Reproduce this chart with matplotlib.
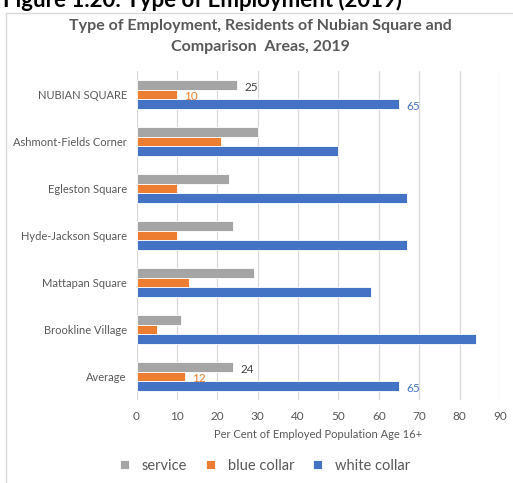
import matplotlib.pyplot as plt
import numpy as np
from matplotlib.patches import Rectangle

plt.rcParams['font.family'] = ['Lato', 'DejaVu Sans']

areas = ['NUBIAN SQUARE', 'Ashmont-Fields Corner', 'Egleston Square',
         'Hyde-Jackson Square', 'Mattapan Square', 'Brookline Village', 'Average']
service = [25, 30, 23, 24, 29, 11, 24]
blue_collar = [10, 21, 10, 10, 13, 5, 12]
white_collar = [65, 50, 67, 67, 58, 84, 65]
series_names = ['service', 'blue collar', 'white collar']
labelled = [0, 6]  # rows that carry value labels

colors = ['#A5A5A5', '#ED7D31', '#4472C4']
label_colors = ['#404040', '#ED7D31', '#4472C4']
text_gray = '#595959'

fig = plt.figure(figsize=(5.13, 4.83), dpi=100)

# chart frame and the cut-off heading above it
fig.patches.append(Rectangle((6 / 513, -0.1), 1.2, 1 - 13 / 483 + 0.1,
                             transform=fig.transFigure, facecolor='white',
                             edgecolor='#D9D9D9', linewidth=1, zorder=-10))
fig.text(0.005, 1.0, 'Figure 1.20: Type of Employment (2019)', fontsize=16,
         fontweight='bold', color='black', ha='left', va='center')

fig.text(0.508, 1 - 26 / 483, 'Type of Employment, Residents of Nubian Square and',
         ha='center', va='center', fontsize=11.5, fontweight='bold', color=text_gray)
fig.text(0.508, 1 - 47 / 483, 'Comparison  Areas, 2019',
         ha='center', va='center', fontsize=11.5, fontweight='bold', color=text_gray)

ax = fig.add_axes([136.5 / 513, 1 - 400 / 483, (500 - 136.5) / 513, 329 / 483])
ax.patch.set_alpha(0)

y = np.arange(len(areas))
h = 0.205
offsets = [-h, 0, h]
for vals, off, c, lc, name in zip([service, blue_collar, white_collar], offsets,
                                  colors, label_colors, series_names):
    ax.barh(y + off, vals, height=h, color=c, edgecolor='white', linewidth=0.6,
            label=name, zorder=3)
    for i in labelled:
        ax.text(vals[i] + 1.8, y[i] + off + 0.05, f'{vals[i]}', color=lc,
                fontsize=8.5, va='center', ha='left', zorder=4)

ax.set_xlim(0, 90)
ax.set_ylim(len(areas) - 0.5, -0.5)
ax.set_xticks(np.arange(0, 91, 10))
ax.set_yticks(y)
ax.set_yticklabels(areas)
ax.tick_params(axis='both', length=0, labelsize=8.5, colors=text_gray)
ax.tick_params(axis='y', labelsize=8, pad=7)
ax.tick_params(axis='x', pad=8)
ax.grid(axis='x', color='#D9D9D9', linewidth=0.9, zorder=0)
for s in ax.spines.values():
    s.set_visible(False)

ax.set_xlabel('Per Cent of Employed Population Age 16+', fontsize=8,
              color=text_gray, labelpad=5)

handles, labels = ax.get_legend_handles_labels()
fig.legend(handles, labels, loc='center', bbox_to_anchor=(0.517, 1 - 466 / 483),
           ncol=3, frameon=False, fontsize=10.5, handlelength=0.6, handleheight=0.6,
           columnspacing=1.3, handletextpad=0.9, labelcolor=text_gray)

fig.savefig('out.png', dpi=100)
